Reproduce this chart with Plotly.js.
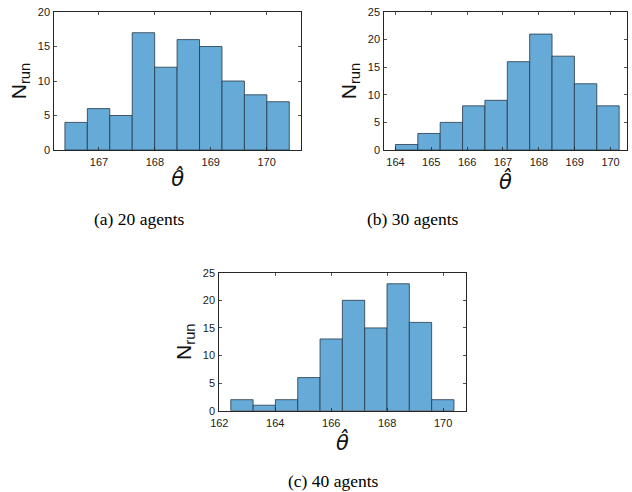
<!DOCTYPE html>
<html>
<head>
<meta charset="utf-8">
<script src="https://cdn.plot.ly/plotly-3.0.1.min.js"></script>
<style>html,body{margin:0;padding:0;background:#fff}#plot{width:632px;height:492px}</style>
</head>
<body>
<div id="plot"></div>
<script>
// Panel (a): 20 agents
const countsA = [4, 6, 5, 17, 12, 16, 15, 10, 8, 7];
const binStartA = 166.39;
const binWidthA = 0.4015;
// Panel (b): 30 agents
const countsB = [1, 3, 5, 8, 9, 16, 21, 17, 12, 8];
const binStartB = 164.0;
const binWidthB = 0.624;
// Panel (c): 40 agents
const countsC = [2, 1, 2, 6, 13, 20, 15, 23, 16, 2];
const binStartC = 162.41;
const binWidthC = 0.798;

const ticksXA = [167, 168, 169, 170];
const ticksXB = [164, 165, 166, 167, 168, 169, 170];
const ticksXC = [162, 164, 166, 168, 170];
const ticksYA = [0, 5, 10, 15, 20];
const ticksYB = [0, 5, 10, 15, 20, 25];
const ticksYC = [0, 5, 10, 15, 20, 25];

const captions = ['(a) 20 agents', '(b) 30 agents', '(c) 40 agents'];
const yTitle = 'N<sub>run</sub>';
const xTitle = '<i>θ̂</i>';

function bars(counts, start, w, xa, ya) {
  const x = counts.map((_, i) => start + w * (i + 0.5));
  return {
    type: 'bar', x: x, y: counts, width: counts.map(() => w),
    xaxis: xa, yaxis: ya,
    marker: {color: 'rgb(102,170,215)', line: {color: 'rgb(38,55,72)', width: 0.8}},
    hoverinfo: 'x+y', showlegend: false
  };
}

const axColor = '#262626';
const tickFont = {family: 'Liberation Sans, Arial, sans-serif', size: 11, color: '#1a1a1a'};
const thetaFont = {family: 'DejaVu Sans, sans-serif', size: 21, color: '#111'};
function xax(domain, range, tv, anchor) {
  return {
    domain: domain, range: range, anchor: anchor,
    tickvals: tv, ticktext: tv.map(String), ticks: 'inside', ticklen: 3, tickwidth: 0.8,
    tickcolor: axColor, showline: true, linecolor: axColor, linewidth: 1, mirror: 'ticks',
    showgrid: false, zeroline: false, tickfont: tickFont, ticklabelstandoff: 2,
    title: {text: xTitle, font: thetaFont, standoff: 4}
  };
}
function yax(domain, range, tv, anchor) {
  return {
    domain: domain, range: range, anchor: anchor,
    tickvals: tv, ticktext: tv.map(String), ticks: 'inside', ticklen: 3, tickwidth: 0.8,
    tickcolor: axColor, showline: true, linecolor: axColor, linewidth: 1, mirror: 'ticks',
    showgrid: false, zeroline: false, tickfont: tickFont, ticklabelstandoff: 1,
    title: {text: yTitle, font: {family: 'Liberation Sans, Arial, sans-serif', size: 21, color: '#111'}, standoff: 5}
  };
}

const data = [
  bars(countsA, binStartA, binWidthA, 'x', 'y'),
  bars(countsB, binStartB, binWidthB, 'x2', 'y2'),
  bars(countsC, binStartC, binWidthC, 'x3', 'y3')
];

const capFont = {family: 'Liberation Serif, Times New Roman, serif', size: 17.5, color: '#000'};
const layout = {
  width: 632, height: 492,
  margin: {l: 0, r: 0, t: 0, b: 0},
  paper_bgcolor: '#fff', plot_bgcolor: '#fff',
  bargap: 0, showlegend: false,
  xaxis:  xax([0.0859, 0.4763], [166.2, 170.615], ticksXA, 'y'),
  yaxis:  yax([0.6951, 0.9756], [0, 20], ticksYA, 'x'),
  xaxis2: xax([0.6081, 0.9916], [163.69, 170.45], ticksXB, 'y2'),
  yaxis2: yax([0.6951, 0.9756], [0, 25], ticksYB, 'x2'),
  xaxis3: xax([0.3470, 0.7369], [162.0, 170.81], ticksXC, 'y3'),
  yaxis3: yax([0.1652, 0.4457], [0, 25], ticksYC, 'x3'),
  annotations: [
    {text: captions[0], x: 139/632, y: 1 - 219/492, xref: 'paper', yref: 'paper', showarrow: false, font: capFont, xanchor: 'center', yanchor: 'middle'},
    {text: captions[1], x: 413/632, y: 1 - 219/492, xref: 'paper', yref: 'paper', showarrow: false, font: capFont, xanchor: 'center', yanchor: 'middle'},
    {text: captions[2], x: 333/632, y: 1 - 481/492, xref: 'paper', yref: 'paper', showarrow: false, font: capFont, xanchor: 'center', yanchor: 'middle'}
  ]
};

Plotly.newPlot('plot', data, layout, {staticPlot: true, displayModeBar: false});
</script>
</body>
</html>
